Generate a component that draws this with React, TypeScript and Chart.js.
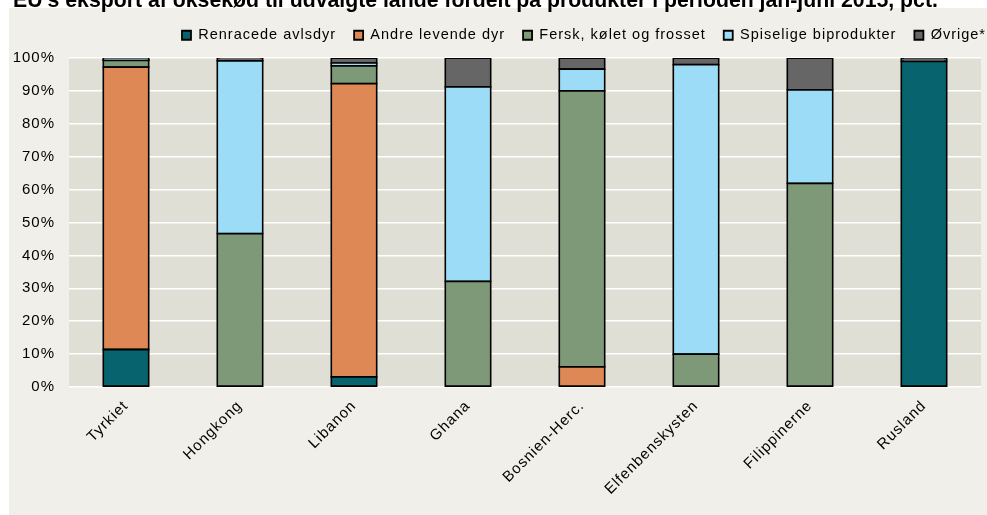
import React, { useEffect, useRef } from 'react';
import { Chart, registerables } from 'chart.js';

Chart.register(...registerables);

const titleText = "EU's eksport af oksekød til udvalgte lande fordelt på produkter i perioden jan-juni 2015, pct.";

const categories = ['Tyrkiet', 'Hongkong', 'Libanon', 'Ghana', 'Bosnien-Herc.', 'Elfenbenskysten', 'Filippinerne', 'Rusland'];

const seriesNames = ['Renracede avlsdyr', 'Andre levende dyr', 'Fersk, kølet og frosset', 'Spiselige biprodukter', 'Øvrige*'];
const seriesColors = ['#07646f', '#dd8855', '#7d9977', '#9ddcf6', '#666666'];

const renracede = [11.4, 0, 3.1, 0, 0, 0, 0, 99.0];
const andreLevende = [85.8, 0, 89.1, 0, 6.1, 0, 0, 0];
const fersk = [2.1, 46.6, 5.4, 32.1, 83.9, 10.0, 61.9, 0];
const spiselige = [0.1, 52.5, 0.8, 59.1, 6.6, 88.0, 28.4, 0];
const ovrige = [0.6, 0.9, 1.6, 8.8, 3.4, 2.0, 9.7, 1.0];

const yMin = 0;
const yMax = 100;
const yStep = 10;

const FONT = '"Liberation Sans", Arial, sans-serif';
const SPACING = '1px';

export default function App() {
  const ref = useRef<HTMLCanvasElement>(null);

  useEffect(() => {
    const canvas = ref.current;
    if (!canvas) return;

    const seriesData = [renracede, andreLevende, fersk, spiselige, ovrige];

    const deco = {
      id: 'deco',
      beforeUpdate(chart: any) {
        chart.ctx.letterSpacing = SPACING;
      },
      beforeLayout(chart: any) {
        const lg = chart.legend;
        if (lg && !lg.__patched) {
          const orig = lg.fit;
          lg.fit = function () {
            orig.call(this);
            this.height = 48;
          };
          lg.__patched = true;
        }
        chart.ctx.letterSpacing = SPACING;
      },
      afterLayout(chart: any) {
        if (chart.legend) chart.legend.right = 1004;
      },
      beforeDraw(chart: any) {
        const ctx = chart.ctx;
        ctx.save();
        ctx.fillStyle = '#f0efe9';
        ctx.fillRect(9, 8, chart.width - 9, chart.height - 8);
        const a = chart.chartArea;
        ctx.fillStyle = '#e0dfd5';
        ctx.fillRect(a.left, a.top, a.right - a.left, a.bottom - a.top);
        ctx.letterSpacing = '0px';
        ctx.font = `bold 100px ${FONT}`;
        const w = ctx.measureText(titleText).width;
        const size = (100 * 925) / w;
        ctx.font = `bold ${size}px ${FONT}`;
        ctx.fillStyle = '#000';
        ctx.textBaseline = 'alphabetic';
        ctx.textAlign = 'left';
        ctx.fillText(titleText, 13, 7);
        ctx.restore();
        ctx.letterSpacing = SPACING;
      },
    };

    const chart = new Chart(canvas, {
      type: 'bar',
      data: {
        labels: categories,
        datasets: seriesNames.map((name, i) => ({
          label: name,
          data: seriesData[i].map((v) => (v === 0 ? null : v)),
          backgroundColor: seriesColors[i],
          borderColor: '#000000',
          borderWidth: 1.8,
          inflateAmount: 0.9,
          borderSkipped: false,
          barPercentage: 0.4,
          categoryPercentage: 1,
        })),
      },
      options: {
        responsive: false,
        animation: false,
        devicePixelRatio: 1,
        layout: { padding: { top: 10, right: 6, bottom: 0, left: 0 } },
        plugins: {
          legend: {
            position: 'top',
            align: 'end',
            labels: {
              font: { family: FONT, size: 14.5 },
              color: '#000000',
              boxWidth: 9,
              boxHeight: 9,
              padding: 18,
            },
          },
          title: { display: false },
          tooltip: { enabled: false },
        },
        scales: {
          x: {
            stacked: true,
            grid: { display: false },
            border: { display: false },
            ticks: {
              font: { family: FONT, size: 15 },
              color: '#000000',
              maxRotation: 45,
              minRotation: 45,
              autoSkip: false,
              padding: 2,
            },
            afterFit(scale: any) {
              scale.height = 128;
            },
          },
          y: {
            stacked: true,
            min: yMin,
            max: yMax,
            grid: { color: '#ffffff', lineWidth: 1.5, drawTicks: false },
            border: { display: false },
            ticks: {
              stepSize: yStep,
              font: { family: FONT, size: 15 },
              color: '#000000',
              padding: 14,
              callback: (v: any) => v + '%',
            },
            afterFit(scale: any) {
              scale.width = 69;
            },
          },
        },
      },
      plugins: [deco],
    } as any);

    return () => chart.destroy();
  }, []);

  return (
    <div style={{ position: 'absolute', left: 0, top: 0, width: 987, height: 515 }}>
      <canvas ref={ref} width={987} height={515} style={{ display: 'block', width: 987, height: 515 }} />
    </div>
  );
}
